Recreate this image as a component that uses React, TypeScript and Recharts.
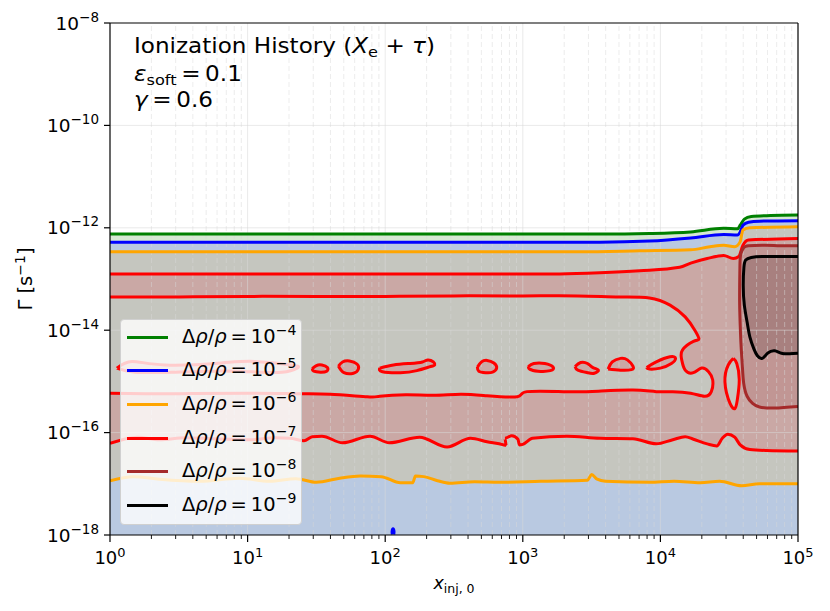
import React from 'react';
import { ComposedChart, Area, Line, XAxis, YAxis, ReferenceLine, Legend } from 'recharts';

const FONT = '"DejaVu Sans", sans-serif';

// everything is in log10 units: x = log10(x_inj,0), y = log10(Gamma / s^-1)
const xDecades = [0, 1, 2, 3, 4, 5];
const xMinorSteps = [2, 3, 4, 5, 6, 7, 8, 9];
const yLabelTicks = [-18, -16, -14, -12, -10, -8];
const yGridTicks = [-16, -14, -12, -10];
const levelExponents = [-4, -5, -6, -7, -8, -9];
const levelColors = ['#008000', '#0000ff', '#ffa500', '#ff0000', '#a52a2a', '#000000'];

const FILL = {
  green: '#d6e8d3',
  blue: '#b9c9e1',
  grey: '#c5c6bf',
  pink: '#caa8a5',
  brown: '#c19694',
  dark: '#a8807f',
};

// contour lines
const greenLine = [
  [0, -12.12], [1, -12.12], [2, -12.12], [3, -12.12], [3.56, -12.12], [3.92, -12.11], [4.22, -12.08],
  [4.46, -12.01], [4.56, -12.02], [4.58, -11.95], [4.61, -11.83], [4.66, -11.78], [4.8, -11.76], [5, -11.75],
];
const blueLine = [
  [0, -12.28], [1, -12.28], [2, -12.28], [3, -12.28], [3.56, -12.28], [3.92, -12.26], [4.22, -12.2],
  [4.46, -12.13], [4.56, -12.14], [4.58, -12.08], [4.6, -11.95], [4.64, -11.89], [4.72, -11.87], [5, -11.86],
];
const orangeTopLine = [
  [0, -12.47], [1, -12.47], [2, -12.47], [3, -12.47], [3.42, -12.47], [3.85, -12.45], [4.22, -12.43],
  [4.36, -12.37], [4.46, -12.34], [4.54, -12.37], [4.58, -12.27], [4.6, -12.04], [4.65, -12.0], [5, -11.98],
];
const redTopLine = [
  [0, -12.9], [1, -12.9], [2, -12.9], [3.27, -12.9], [3.56, -12.88], [3.85, -12.84], [4.14, -12.77],
  [4.22, -12.69], [4.34, -12.6], [4.46, -12.54], [4.53, -12.6], [4.57, -12.56], [4.6, -12.34], [4.64, -12.24], [5, -12.21],
];
const redMidLoop = [
  [0, -13.35], [0.5, -13.35], [1, -13.34], [1.5, -13.34], [2, -13.34], [2.5, -13.33], [3, -13.33], [3.4, -13.33],
  [3.7, -13.35], [3.92, -13.37], [4.07, -13.51], [4.18, -13.74], [4.25, -14.0], [4.28, -14.17], [4.24, -14.22],
  [4.16, -14.39], [4.155, -14.58], [4.18, -14.78], [4.24, -14.83], [4.3, -14.74], [4.35, -14.81], [4.38, -14.97],
  [4.37, -15.2], [4.32, -15.29], [4.22, -15.23], [4.09, -15.2], [3.97, -15.2], [3.8, -15.17], [3.55, -15.19],
  [3.32, -15.2], [3.03, -15.2], [2.96, -15.3], [2.74, -15.28], [2.55, -15.25], [2.35, -15.27], [2.15, -15.26],
  [1.96, -15.29], [1.87, -15.3], [1.6, -15.25], [1.38, -15.24], [1, -15.23], [0.5, -15.24], [0, -15.23],
];
const redBottomLine = [
  [0, -16.21], [0.2, -16.09], [0.36, -16.14], [0.55, -16.1], [0.74, -16.12], [1.02, -16.14], [1.2, -16.1],
  [1.31, -16.11], [1.41, -16.16], [1.47, -16.08], [1.54, -16.07], [1.69, -16.2], [1.89, -16.07], [2.03, -16.2],
  [2.25, -16.09], [2.45, -16.28], [2.62, -16.11], [2.74, -16.18], [2.86, -16.24], [2.88, -16.26], [2.87, -16.11],
  [2.92, -16.06], [2.965, -16.13], [2.975, -16.24], [3.0, -16.23], [3.07, -16.11], [3.32, -16.07], [3.56, -16.11],
  [3.8, -16.12], [3.97, -16.22], [4.09, -16.14], [4.18, -16.08], [4.24, -16.13], [4.34, -16.22], [4.41, -16.26],
  [4.45, -16.11], [4.49, -16.03], [4.54, -16.09], [4.58, -16.24], [4.65, -16.33], [4.77, -16.35], [5, -16.36],
];
const orangeBottomLine = [
  [0, -16.94], [0.17, -16.86], [0.36, -16.91], [0.65, -16.95], [0.94, -16.89], [1.16, -16.95], [1.35, -16.9],
  [1.5, -16.97], [1.67, -16.89], [1.82, -16.85], [1.97, -16.86], [2.11, -16.98], [2.2, -16.98], [2.22, -16.85],
  [2.28, -16.86], [2.38, -16.94], [2.47, -16.99], [2.65, -16.96], [2.83, -16.97], [3.13, -16.95], [3.47, -16.93],
  [3.5, -16.82], [3.54, -16.91], [3.6, -16.95], [3.92, -16.97], [4.1, -16.95], [4.29, -16.98], [4.43, -16.95],
  [4.59, -17.04], [4.72, -17.0], [5, -17.0],
];
const brownLoop = [
  [5, -12.35], [4.87, -12.35], [4.76, -12.34], [4.64, -12.35], [4.605, -12.39], [4.585, -12.5], [4.578, -12.73],
  [4.576, -13.12], [4.576, -13.51], [4.58, -13.9], [4.586, -14.29], [4.595, -14.68], [4.605, -15.03], [4.63, -15.29],
  [4.67, -15.43], [4.72, -15.5], [4.83, -15.52], [5, -15.49],
];
const blackLoop = [
  [5, -12.56], [4.87, -12.56], [4.74, -12.56], [4.66, -12.58], [4.62, -12.63], [4.607, -12.77], [4.602, -13.12],
  [4.61, -13.51], [4.63, -13.84], [4.65, -14.13], [4.68, -14.37], [4.705, -14.5], [4.74, -14.55], [4.78, -14.45],
  [4.83, -14.4], [4.88, -14.45], [4.94, -14.46], [5, -14.45],
];

// small closed 1e-7 contours (pink inside) in the grey middle band
const islandLong = [
  [0.05, -14.74], [0.16, -14.61], [0.4, -14.68], [0.81, -14.64], [1.05, -14.61], [1.32, -14.68], [1.36, -14.74],
  [1.25, -14.82], [1.0, -14.81], [0.76, -14.8], [0.45, -14.82], [0.18, -14.82], [0.05, -14.74],
];
const island1 = [[1.47, -14.75], [1.5, -14.69], [1.54, -14.68], [1.58, -14.73], [1.575, -14.8], [1.53, -14.82], [1.48, -14.8], [1.47, -14.75]];
const island2 = [[1.66, -14.7], [1.69, -14.62], [1.74, -14.6], [1.795, -14.66], [1.805, -14.76], [1.77, -14.84], [1.7, -14.83], [1.66, -14.7]];
const island3 = [
  [1.96, -14.74], [2.06, -14.68], [2.18, -14.65], [2.27, -14.62], [2.31, -14.58], [2.35, -14.62], [2.36, -14.68],
  [2.33, -14.71], [2.23, -14.79], [2.11, -14.83], [1.98, -14.81], [1.96, -14.74],
];
const island4 = [[2.67, -14.72], [2.7, -14.62], [2.74, -14.59], [2.79, -14.64], [2.81, -14.74], [2.78, -14.82], [2.73, -14.83], [2.68, -14.8], [2.67, -14.72]];
const island5 = [[3.04, -14.71], [3.08, -14.65], [3.16, -14.65], [3.22, -14.72], [3.2, -14.79], [3.11, -14.8], [3.05, -14.76], [3.04, -14.71]];
const island6 = [[3.38, -14.71], [3.42, -14.63], [3.47, -14.65], [3.51, -14.73], [3.55, -14.78], [3.52, -14.84], [3.47, -14.83], [3.4, -14.78], [3.38, -14.71]];
const island7 = [[3.62, -14.76], [3.65, -14.62], [3.71, -14.55], [3.76, -14.58], [3.8, -14.7], [3.79, -14.77], [3.71, -14.78], [3.62, -14.76]];
const island8 = [[3.9, -14.73], [3.97, -14.62], [4.07, -14.52], [4.11, -14.55], [4.08, -14.65], [4.0, -14.74], [3.92, -14.76], [3.9, -14.73]];
const pinkIslands = [islandLong, island1, island2, island3, island4, island5, island6, island7, island8];

// grey pocket inside the pink region on the right
const islandVertical = [
  [4.53, -14.55], [4.555, -14.65], [4.573, -14.97], [4.559, -15.36], [4.542, -15.53], [4.506, -15.43],
  [4.469, -15.01], [4.493, -14.68], [4.53, -14.55],
];
// tiny 1e-5 contour at the bottom edge
const blueDot = [[2.052, -17.99], [2.05, -17.93], [2.057, -17.88], [2.064, -17.93], [2.062, -17.99]];

const pts = (a: number[][]) => a.map(([x, y]) => ({ x, y }));
const fmtExp = (e: number) => (e < 0 ? '\u2212' + Math.abs(e) : String(e));

const fillArea = (key: string, src: number[][], fill: string, type: any = 'monotone') => (
  <Area
    key={key}
    data={pts(src)}
    dataKey="y"
    type={type}
    baseValue={-18}
    stroke="none"
    fill={fill}
    fillOpacity={1}
    dot={false}
    activeDot={false}
    legendType="none"
    isAnimationActive={false}
  />
);

const contour = (key: string, src: number[][], color: string, type: any = 'monotone') => (
  <Line
    key={key}
    data={pts(src)}
    dataKey="y"
    type={type}
    stroke={color}
    strokeWidth={3}
    dot={false}
    activeDot={false}
    legendType="none"
    isAnimationActive={false}
  />
);

const XTick = (props: any) => {
  const { x, y, payload } = props;
  const v = payload.value;
  const major = Math.abs(v - Math.round(v)) < 1e-9;
  return (
    <g>
      <line x1={x} y1={y} x2={x} y2={y + (major ? 7 : 4)} stroke="#000" strokeWidth={major ? 1.2 : 0.9} />
      {major && (
        <text x={x} y={y + 29.3} textAnchor="middle" fontFamily={FONT} fontSize={18} fill="#000">
          10<tspan dy={-7.5} fontSize={13}>{fmtExp(Math.round(v))}</tspan>
        </text>
      )}
    </g>
  );
};

const YTick = (props: any) => {
  const { x, y, payload } = props;
  return (
    <g>
      <line x1={x - 6} y1={y} x2={x} y2={y} stroke="#000" strokeWidth={1.2} />
      <text x={x - 11} y={y + 6.5} textAnchor="end" fontFamily={FONT} fontSize={18.5} fill="#000">
        10<tspan dy={-8} fontSize={13.5}>{fmtExp(payload.value)}</tspan>
      </text>
    </g>
  );
};

const renderLegend = () => (
  <div
    style={{
      boxSizing: 'border-box',
      width: 182,
      height: 206,
      background: 'rgba(255,255,255,0.8)',
      border: '1px solid #d0d0d0',
      borderRadius: 4,
      padding: '1px 0 0 6px',
      fontFamily: FONT,
      fontSize: 19.5,
      color: '#000',
    }}
  >
    {levelExponents.map((e, i) => (
      <div key={e} style={{ height: 33.6, display: 'flex', alignItems: 'center' }}>
        <span style={{ display: 'inline-block', width: 41, height: 3, background: levelColors[i], marginRight: 14, flexShrink: 0 }} />
        <span style={{ whiteSpace: 'nowrap', lineHeight: '22px' }}>
          Δ<i>ρ</i>/<i>ρ</i>{'\u2009=\u2009'}10
          <span style={{ fontSize: 14, position: 'relative', top: -8 }}>{fmtExp(e)}</span>
        </span>
      </div>
    ))}
  </div>
);

const xMinorGrid = xDecades.slice(0, -1).flatMap((d) => xMinorSteps.map((k) => d + Math.log10(k)));
const xTicks = [...xDecades, ...xMinorGrid].sort((a, b) => a - b);

export default function App() {
  return (
    <div style={{ position: 'absolute', left: 0, top: 0, width: 830, height: 611, background: '#fff' }}>
      <ComposedChart width={830} height={611} margin={{ top: 23, right: 32, bottom: 0, left: 0 }}>
        <XAxis
          dataKey="x"
          type="number"
          domain={[0, 5]}
          ticks={xTicks}
          interval={0}
          tickSize={0}
          tickMargin={0}
          tick={XTick}
          tickLine={false}
          axisLine={{ stroke: '#000', strokeWidth: 1.2 }}
          height={76}
          allowDataOverflow
        />
        <YAxis
          type="number"
          domain={[-18, -8]}
          ticks={yLabelTicks}
          interval={0}
          tickSize={0}
          tickMargin={0}
          tick={YTick}
          tickLine={false}
          axisLine={{ stroke: '#000', strokeWidth: 1.2 }}
          width={110}
          allowDataOverflow
        />

        {/* filled bands, painted from the top level downwards */}
        {fillArea('f-green', greenLine, FILL.green)}
        {fillArea('f-blue', blueLine, FILL.blue)}
        {fillArea('f-orange', orangeTopLine, FILL.grey)}
        {fillArea('f-red', redTopLine, FILL.pink)}
        {fillArea('f-mid', redMidLoop, FILL.grey, 'natural')}
        {pinkIslands.map((isl, i) => fillArea('f-isl' + i, isl, FILL.pink, 'natural'))}
        {fillArea('f-vert', islandVertical, FILL.grey, 'natural')}
        {fillArea('f-brown', brownLoop, FILL.brown, 'natural')}
        {fillArea('f-black', blackLoop, FILL.dark, 'natural')}
        {fillArea('f-redlow', redBottomLine, FILL.grey)}
        {fillArea('f-orangelow', orangeBottomLine, FILL.blue)}

        {/* grid drawn over the fills */}
        {xDecades.slice(1, -1).map((d) => (
          <ReferenceLine key={'gx' + d} x={d} stroke="#d8d8d8" strokeOpacity={0.55} strokeWidth={1} zIndex={150} />
        ))}
        {xMinorGrid.map((d) => (
          <ReferenceLine key={'gm' + d} x={d} stroke="#d8d8d8" strokeOpacity={0.55} strokeWidth={0.9} strokeDasharray="5 3" zIndex={150} />
        ))}
        {yGridTicks.map((d) => (
          <ReferenceLine key={'gy' + d} y={d} stroke="#d8d8d8" strokeOpacity={0.55} strokeWidth={1} zIndex={150} />
        ))}

        {contour('c-green', greenLine, levelColors[0])}
        {contour('c-blue', blueLine, levelColors[1])}
        {contour('c-orange', orangeTopLine, levelColors[2])}
        {contour('c-red', redTopLine, levelColors[3])}
        {contour('c-mid', redMidLoop, levelColors[3], 'natural')}
        {pinkIslands.map((isl, i) => contour('c-isl' + i, isl, levelColors[3], 'natural'))}
        {contour('c-vert', islandVertical, levelColors[3], 'natural')}
        {contour('c-redlow', redBottomLine, levelColors[3])}
        {contour('c-orangelow', orangeBottomLine, levelColors[2])}
        {contour('c-brown', brownLoop, levelColors[4], 'natural')}
        {contour('c-black', blackLoop, levelColors[5], 'natural')}
        {contour('c-dot', blueDot, levelColors[1], 'natural')}

        <ReferenceLine y={-8} stroke="#000" strokeWidth={1.2} zIndex={600} />
        <ReferenceLine x={5} stroke="#000" strokeWidth={1.2} zIndex={600} />

        <Legend
          content={renderLegend}
          layout="vertical"
          align="center"
          verticalAlign="middle"
          wrapperStyle={{ left: 120, top: 318.5, width: 182, height: 206 }}
        />
      </ComposedChart>

      <svg width={830} height={611} style={{ position: 'absolute', left: 0, top: 0, pointerEvents: 'none' }}>
        <g fontFamily={FONT} fill="#000">
          {/* annotation block, slightly wide set like the reference */}
          <g transform="translate(134,0) scale(1.1,1)">
            <text x={0} y={53.3} fontSize={21}>
              Ionization History (<tspan fontStyle="italic">X</tspan>
              <tspan fontSize={14.7} dy={4}>e</tspan>
              <tspan dy={-4}>{' + '}</tspan>
              <tspan fontStyle="italic">τ</tspan>)
            </text>
            <text x={0} y={81} fontSize={21}>
              <tspan fontStyle="italic">ε</tspan>
              <tspan fontSize={14.7} dy={4}>soft</tspan>
              <tspan dy={-4}>{'\u2009=\u20090.1'}</tspan>
            </text>
            <text x={0} y={106.7} fontSize={21}>
              <tspan fontStyle="italic">γ</tspan>
              <tspan>{'\u2009=\u20090.6'}</tspan>
            </text>
          </g>
          <text x={454} y={589} fontSize={17.5} textAnchor="middle">
            <tspan fontStyle="italic">x</tspan>
            <tspan fontSize={12.5} dy={3.5}>inj, 0</tspan>
          </text>
          <text x={-279} y={32} fontSize={19.5} textAnchor="middle" transform="rotate(-90)">
            Γ [s<tspan fontSize={14} dy={-7.5}>{'\u22121'}</tspan>
            <tspan dy={7.5}>]</tspan>
          </text>
        </g>
      </svg>
    </div>
  );
}
